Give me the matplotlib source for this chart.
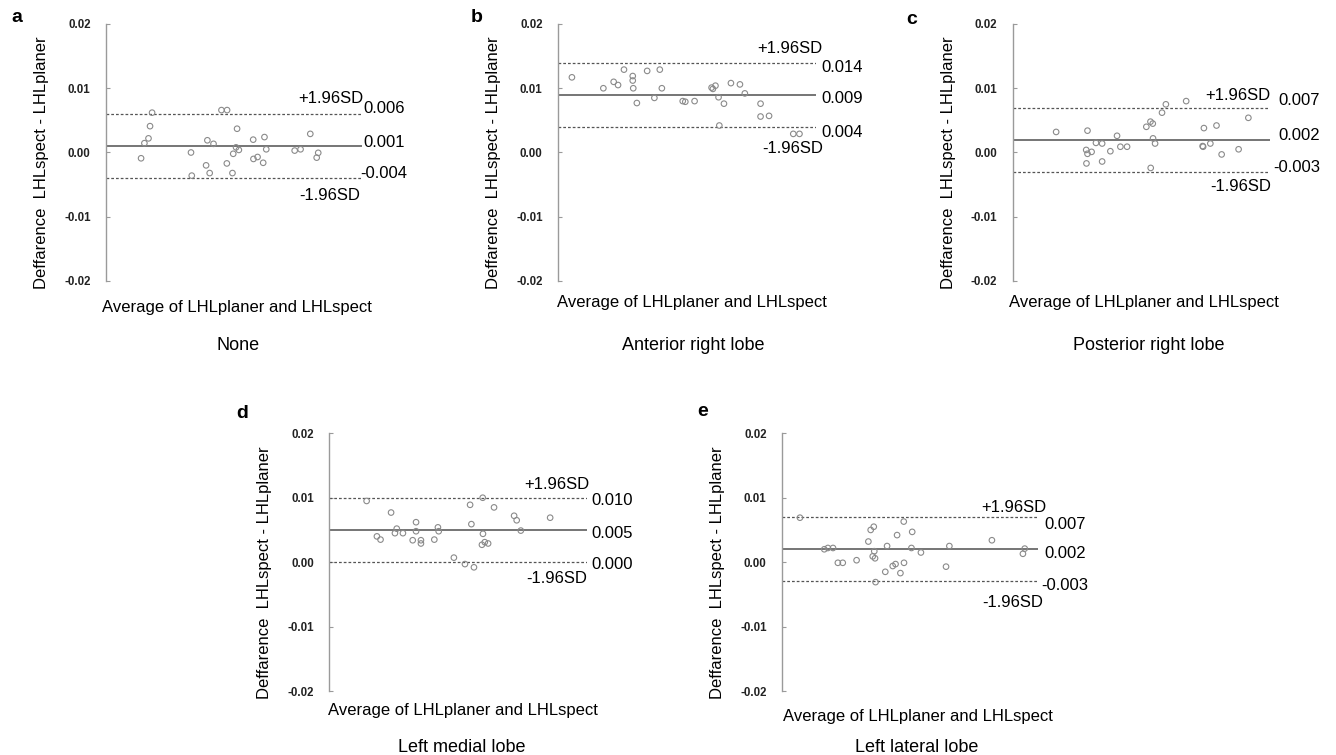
import matplotlib
matplotlib.use("Agg")
import matplotlib.pyplot as plt

plt.rcParams["font.family"] = ["Liberation Sans", "DejaVu Sans"]

# --- data (x = relative position along the "average" axis, no ticks shown) ---
panel_letters = ["a", "b", "c", "d", "e"]
panel_titles = ["None", "Anterior right lobe", "Posterior right lobe",
                "Left medial lobe", "Left lateral lobe"]

none_x = [0.137, 0.150, 0.166, 0.172, 0.180, 0.332, 0.335, 0.391, 0.396, 0.405,
          0.420, 0.451, 0.473, 0.472, 0.494, 0.497, 0.508, 0.512, 0.519, 0.575,
          0.576, 0.592, 0.614, 0.619, 0.626, 0.737, 0.760, 0.798, 0.823, 0.829]
none_y = [-0.0009, 0.00145, 0.0022, 0.0041, 0.0062, 0.0, -0.0036, -0.0020, 0.0019, -0.0032,
          0.00135, 0.0066, 0.0066, -0.0017, -0.0032, -0.0002, 0.0008, 0.0037, 0.0004, 0.0020,
          -0.0010, -0.0007, -0.0016, 0.0024, 0.0005, 0.0003, 0.0005, 0.0029, -0.0008, -0.00005]

ant_x = [0.054, 0.176, 0.216, 0.233, 0.256, 0.290, 0.290, 0.292, 0.306, 0.346,
         0.374, 0.395, 0.403, 0.484, 0.494, 0.530, 0.596, 0.601, 0.611, 0.623,
         0.626, 0.644, 0.671, 0.706, 0.725, 0.786, 0.786, 0.819, 0.913, 0.937]
ant_y = [0.0117, 0.0100, 0.0110, 0.0105, 0.0129, 0.0119, 0.0112, 0.0100, 0.0077, 0.0127,
         0.0085, 0.0129, 0.0100, 0.0080, 0.0079, 0.0080, 0.0101, 0.0099, 0.0104, 0.0086,
         0.0042, 0.0076, 0.0108, 0.0106, 0.0092, 0.0076, 0.0056, 0.0057, 0.0029, 0.0029]

post_x = [0.169, 0.286, 0.291, 0.291, 0.287, 0.307, 0.324, 0.348, 0.348, 0.380,
          0.406, 0.419, 0.445, 0.520, 0.536, 0.545, 0.546, 0.554, 0.537, 0.581,
          0.596, 0.675, 0.744, 0.739, 0.741, 0.769, 0.793, 0.813, 0.879, 0.917]
post_y = [0.0032, 0.0004, 0.0034, -0.0002, -0.0017, 0.0001, 0.0015, 0.0014, -0.0014, 0.0002,
          0.0026, 0.0009, 0.0009, 0.0040, 0.0048, 0.0045, 0.0022, 0.0014, -0.0024, 0.0062,
          0.0075, 0.0080, 0.0038, 0.0010, 0.0009, 0.0014, 0.0042, -0.0003, 0.0005, 0.0054]

lmed_x = [0.145, 0.185, 0.199, 0.240, 0.255, 0.262, 0.286, 0.324, 0.337, 0.337,
          0.356, 0.356, 0.408, 0.422, 0.425, 0.484, 0.527, 0.547, 0.552, 0.562,
          0.596, 0.597, 0.593, 0.604, 0.617, 0.640, 0.718, 0.728, 0.744, 0.858]
lmed_y = [0.0095, 0.0040, 0.0035, 0.0077, 0.0045, 0.0052, 0.0045, 0.0034, 0.0062, 0.0048,
          0.0034, 0.0029, 0.0035, 0.0054, 0.0048, 0.0007, -0.0003, 0.0089, 0.0059, -0.0008,
          0.0100, 0.0044, 0.0027, 0.0031, 0.0029, 0.0085, 0.0072, 0.0065, 0.0049, 0.0069]

llat_x = [0.070, 0.165, 0.179, 0.199, 0.218, 0.237, 0.291, 0.337, 0.346, 0.358,
          0.354, 0.360, 0.363, 0.365, 0.403, 0.410, 0.432, 0.443, 0.449, 0.462,
          0.475, 0.476, 0.505, 0.508, 0.542, 0.640, 0.653, 0.819, 0.940, 0.947]
llat_y = [0.0069, 0.0020, 0.0022, 0.0022, -0.0001, -0.0001, 0.0003, 0.0032, 0.0050, 0.0055,
          0.0009, 0.0017, 0.0006, -0.0031, -0.0015, 0.0025, -0.0006, -0.0003, 0.0042, -0.0017,
          0.0063, -0.0001, 0.0022, 0.0047, 0.0015, -0.0007, 0.0025, 0.0034, 0.0013, 0.0021]

xs = [none_x, ant_x, post_x, lmed_x, llat_x]
ys = [none_y, ant_y, post_y, lmed_y, llat_y]

mean_diff = [0.001, 0.009, 0.002, 0.005, 0.002]
upper_loa = [0.006, 0.014, 0.007, 0.010, 0.007]
lower_loa = [-0.004, 0.004, -0.003, 0.000, -0.003]
mean_lbl = ["0.001", "0.009", "0.002", "0.005", "0.002"]
upper_lbl = ["0.006", "0.014", "0.007", "0.010", "0.007"]
lower_lbl = ["-0.004", "0.004", "-0.003", "0.000", "-0.003"]

yticks = [-0.02, -0.01, 0.0, 0.01, 0.02]
ytick_labels = ["-0.02", "-0.01", "0.00", "0.01", "0.02"]

# --- layout (pixels in a 1336x755 canvas) ---
W, H = 1336, 755
# left, top, right, bottom of each plot area
boxes = [(106, 24, 362, 281), (558, 24, 815.7, 281), (1012.7, 24, 1269.7, 281),
         (329.3, 433.3, 586.7, 691), (782, 433.3, 1038.3, 691)]
letter_pos = [(17, 18), (477, 17), (912, 20), (242, 413), (703, 412)]
title_pos = [(238, 345), (693, 345), (1149, 345), (462, 748), (917, 747)]
xlabel_y = [-0.105, -0.082, -0.082, -0.074, -0.10]
xlabel_x = [0.51, 0.52, 0.51, 0.52, 0.53]
# text placement: (x, y) for +SD, upper value, mean value, lower value, -SD
txt = [
    [(1.004, 0.00847), (1.007, 0.0068), (1.007, 0.00161), (0.993, -0.00332), (0.993, -0.00665)],
    [(1.027, 0.01616), (1.021, 0.0133), (1.021, 0.00836), (1.021, 0.00317), (1.027, 0.00057)],
    [(1.004, 0.00888), (1.033, 0.00805), (1.033, 0.0026), (1.014, -0.00234), (1.004, -0.00525)],
    [(1.010, 0.0120), (1.017, 0.00964), (1.017, 0.00446), (1.017, -0.00036), (1.000, -0.00259)],
    [(1.0325, 0.00845), (1.023, 0.00591), (1.023, 0.00135), (1.013, -0.00363), (1.017, -0.00622)],
]

fig = plt.figure(figsize=(W / 100, H / 100), dpi=100)

for i in range(5):
    l, t, r, b = boxes[i]
    ax = fig.add_axes([l / W, 1 - b / H, (r - l) / W, (b - t) / H])
    ax.set_xlim(0, 1)
    ax.set_ylim(-0.02, 0.02)
    for s in ["top", "right", "bottom"]:
        ax.spines[s].set_visible(False)
    ax.spines["left"].set_color("#9a9a9a")
    ax.spines["left"].set_linewidth(1.0)
    ax.set_xticks([])
    ax.set_yticks(yticks)
    ax.set_yticklabels(ytick_labels, fontweight="bold", fontsize=8.3)
    ax.tick_params(axis="y", direction="in", length=3, color="#9a9a9a", pad=11,
                   labelcolor="#222222")

    ax.axhline(mean_diff[i], color="#505050", lw=1.1)
    ax.axhline(upper_loa[i], color="#555555", lw=0.9, ls=(0, (2.2, 1.6)))
    ax.axhline(lower_loa[i], color="#555555", lw=0.9, ls=(0, (2.2, 1.6)))
    ax.scatter(xs[i], ys[i], s=16, facecolors="none", edgecolors="#8a8a8a",
               linewidths=0.8, zorder=3)

    tr = ax.get_yaxis_transform()
    p = txt[i]
    kw = dict(transform=tr, fontsize=12, va="center", clip_on=False)
    ax.text(p[0][0], p[0][1], "+1.96SD", ha="right", **kw)
    ax.text(p[1][0], p[1][1], upper_lbl[i], ha="left", **kw)
    ax.text(p[2][0], p[2][1], mean_lbl[i], ha="left", **kw)
    ax.text(p[3][0], p[3][1], lower_lbl[i], ha="left", **kw)
    ax.text(p[4][0], p[4][1], "-1.96SD", ha="right", **kw)

    ax.text(-0.25, 0.46, "Deffarence  LHLspect - LHLplaner", rotation=90,
            transform=ax.transAxes, ha="center", va="center", fontsize=12)
    ax.text(xlabel_x[i], xlabel_y[i], "Average of LHLplaner and LHLspect",
            transform=ax.transAxes, ha="center", va="center", fontsize=12)

    fig.text(letter_pos[i][0] / W, 1 - letter_pos[i][1] / H, panel_letters[i],
             fontsize=14, fontweight="bold", ha="center", va="center")
    fig.text(title_pos[i][0] / W, 1 - title_pos[i][1] / H, panel_titles[i],
             fontsize=13, ha="center", va="center")

fig.savefig("out.png", dpi=100)
